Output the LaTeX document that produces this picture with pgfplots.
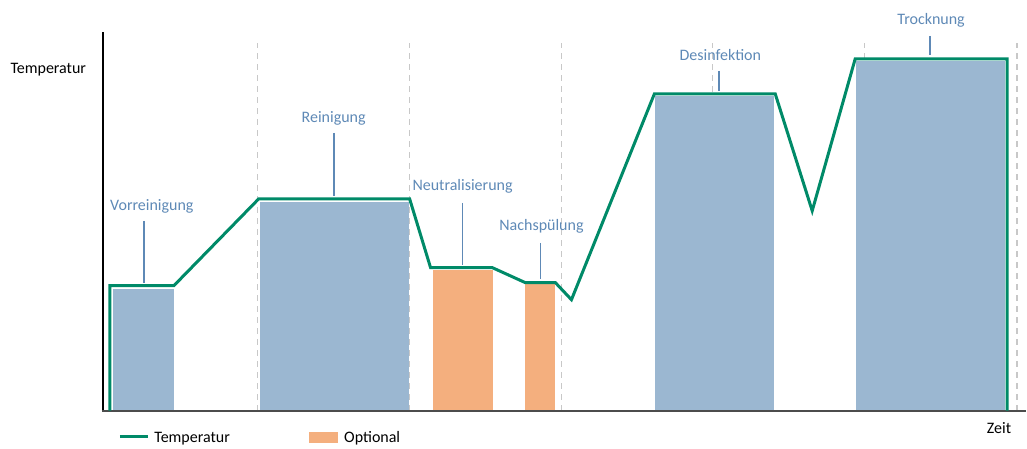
\documentclass[border=0pt]{standalone}
\usepackage{pgfplots}
\pgfplotsset{compat=1.18}
\usepackage{fontspec}
\setmainfont{Carlito}
\definecolor{barblue}{HTML}{9BB7D1}
\definecolor{barorange}{HTML}{F4AF7E}
\definecolor{tgreen}{HTML}{008A68}
\definecolor{lblue}{HTML}{5E89B6}
\definecolor{dashgray}{HTML}{C8C8C8}
\begin{document}
\begin{tikzpicture}
\begin{axis}[
  x=1pt, y=1pt, scale only axis,
  xmin=0, xmax=1027, ymin=0, ymax=445,
  axis lines=none, clip=false,
]
\path (axis cs:0,0) rectangle (axis cs:1027,445);
% dashed separators
\foreach \xx in {258,410,562,713,865,1018}{
  \edef\tmp{\noexpand\draw[dashgray, line width=1.3pt, dash pattern=on 6pt off 5pt] (axis cs:\xx,34) -- (axis cs:\xx,402);}\tmp
}
% bars
\addplot[fill=barblue, draw=none] coordinates {(113,34) (113,156) (174,156) (174,34)} -- cycle;
\addplot[fill=barblue, draw=none] coordinates {(260,34) (260,243) (409,243) (409,34)} -- cycle;
\addplot[fill=barorange, draw=none] coordinates {(433,34) (433,175) (493,175) (493,34)} -- cycle;
\addplot[fill=barorange, draw=none] coordinates {(526,34) (526,161) (556,161) (556,34)} -- cycle;
\addplot[fill=barblue, draw=none] coordinates {(656,34) (656,349) (775,349) (775,34)} -- cycle;
\addplot[fill=barblue, draw=none] coordinates {(857,34) (857,384) (1006,384) (1006,34)} -- cycle;
% axes lines
\draw[black, line width=2pt] (axis cs:103,33) -- (axis cs:103,413);
\draw[black!70, line width=2pt] (axis cs:102,34) -- (axis cs:1027,34);
% temperature line
\addplot[tgreen, line width=3pt, line join=miter, mark=none] coordinates {
 (110,34) (110,159) (174,159) (259,246) (410,246) (431,177) (493,177)
 (526,162) (556,162) (572,145) (655,351) (776,351) (813,234) (856,386)
 (1008,386) (1008,34)};
% labels and leaders
\begin{scope}[lblue, font=\fontsize{16}{18}\selectfont]
\node at (axis cs:152,238) {Vorreinigung};
\draw[line width=1.7pt] (axis cs:144,224) -- (axis cs:144,162);
\node at (axis cs:334,327) {Reinigung};
\draw[line width=1.7pt] (axis cs:334,312) -- (axis cs:334,249);
\node at (axis cs:463,258) {Neutralisierung};
\draw[line width=1.7pt] (axis cs:463,242) -- (axis cs:463,180);
\node at (axis cs:542,218) {Nachspülung};
\draw[line width=1.7pt] (axis cs:541,202) -- (axis cs:541,166);
\node at (axis cs:721,390) {Desinfektion};
\draw[line width=1.7pt] (axis cs:720,374) -- (axis cs:720,354);
\node at (axis cs:932,425) {Trocknung};
\draw[line width=1.7pt] (axis cs:931,409) -- (axis cs:931,390);
\end{scope}
\node[font=\fontsize{16}{18}\selectfont, anchor=west] at (axis cs:7,375) {Temperatur};
\node[font=\fontsize{16}{18}\selectfont] at (axis cs:1000,17) {Zeit};
% legend
\draw[tgreen, line width=3pt] (axis cs:120,8) -- (axis cs:148,8);
\node[font=\fontsize{16}{18}\selectfont, anchor=west] at (axis cs:151,6) {Temperatur};
\fill[barorange] (axis cs:309,2) rectangle (axis cs:338,13);
\node[font=\fontsize{16}{18}\selectfont, anchor=west] at (axis cs:341,6) {Optional};
\end{axis}
\end{tikzpicture}
\end{document}
